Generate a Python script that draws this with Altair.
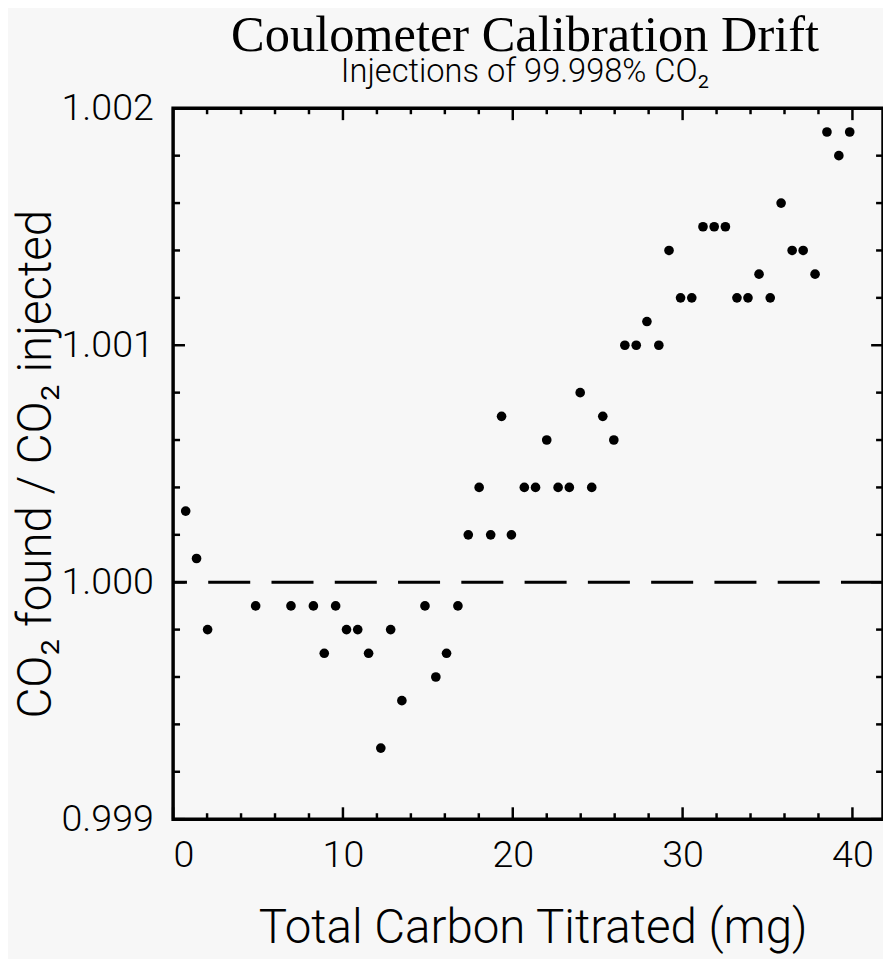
import altair as alt
import pandas as pd

# ---- data ----
carbon_mg = [0.74, 1.38, 2.03, 4.86, 6.94, 8.26, 8.9, 9.57, 10.21, 10.87, 11.51, 12.23, 12.81,
             13.47, 14.83, 15.47, 16.1, 16.77, 17.38, 18.02, 18.7, 19.34, 19.92, 20.68, 21.34,
             22.0, 22.67, 23.33, 23.97, 24.65, 25.3, 25.95, 26.6, 27.27, 27.9, 28.6, 29.2,
             29.88, 30.54, 31.2, 31.86, 32.52, 33.2, 33.85, 34.5, 35.16, 35.8, 36.45, 37.1,
             37.8, 38.5, 39.2, 39.84]
ratio = [1.0003, 1.0001, 0.9998, 0.9999, 0.9999, 0.9999, 0.9997, 0.9999, 0.9998, 0.9998,
         0.9997, 0.9993, 0.9998, 0.9995, 0.9999, 0.9996, 0.9997, 0.9999, 1.0002, 1.0004,
         1.0002, 1.0007, 1.0002, 1.0004, 1.0004, 1.0006, 1.0004, 1.0004, 1.0008, 1.0004,
         1.0007, 1.0006, 1.0010, 1.0010, 1.0011, 1.0010, 1.0014, 1.0012, 1.0012, 1.0015,
         1.0015, 1.0015, 1.0012, 1.0012, 1.0013, 1.0012, 1.0016, 1.0014, 1.0014, 1.0013,
         1.0019, 1.0018, 1.0019]
reference_ratio = [1.000]

x_labels = [0, 10, 20, 30, 40]
x_minor = [2, 4, 6, 8, 12, 14, 16, 18, 22, 24, 26, 28, 32, 34, 36, 38]
y_labels = [0.999, 1.000, 1.001, 1.002]
y_minor = [0.9992, 0.9994, 0.9996, 0.9998, 1.0002, 1.0004, 1.0006, 1.0008,
           1.0012, 1.0014, 1.0016, 1.0018]

W, H = 718, 719
SANS = "Roboto"

df = pd.DataFrame({"carbon": carbon_mg, "ratio": ratio})
xs = alt.Scale(domain=[0, 41.8], nice=False, zero=False)
ys = alt.Scale(domain=[0.999, 1.002], nice=False, zero=False)

points = alt.Chart(df).mark_circle(size=95, color="black", opacity=1).encode(
    x=alt.X("carbon:Q", scale=xs, axis=alt.Axis(
        values=x_labels, ticks=False, domain=False, grid=False,
        labelFont=SANS, labelFontWeight=300, labelFontSize=38, labelColor="black",
        labelPadding=18,
        title="Total Carbon Titrated (mg)", titleFont=SANS, titleFontWeight=300,
        titleFontSize=48, titleColor="black", titleAlign="left", titleX=86,
        titleY=125, titleBaseline="alphabetic")),
    y=alt.Y("ratio:Q", scale=ys, axis=alt.Axis(
        values=y_labels, format=".3f", ticks=False, domain=False, grid=False,
        labelFont=SANS, labelFontWeight=300, labelFontSize=38, labelColor="black",
        labelPadding=20,
        title="CO₂ found / CO₂ injected", titleFont=SANS, titleFontWeight=300,
        titleFontSize=48, titleColor="black", titleAngle=270, titleAlign="center",
        titleX=-124, titleY=H / 2, titleBaseline="alphabetic")),
)

ref = alt.Chart(pd.DataFrame({"ratio": reference_ratio})).mark_rule(
    color="black", strokeWidth=3, strokeDash=[42.5, 21.5]
).encode(y=alt.Y("ratio:Q", scale=ys))

def xticks(vals, length, top):
    d = pd.DataFrame({"carbon": vals})
    if top:
        yy, yy2 = alt.value(0), alt.value(length)
    else:
        yy, yy2 = alt.value(H - length), alt.value(H)
    return alt.Chart(d).mark_rule(color="black", strokeWidth=2.5).encode(
        x=alt.X("carbon:Q", scale=xs), y=yy, y2=yy2)

def yticks(vals, length, right):
    d = pd.DataFrame({"ratio": vals})
    if right:
        xx, xx2 = alt.value(W - length), alt.value(W)
    else:
        xx, xx2 = alt.value(0), alt.value(length)
    return alt.Chart(d).mark_rule(color="black", strokeWidth=2.5).encode(
        y=alt.Y("ratio:Q", scale=ys), x=xx, x2=xx2)

layers = [
    ref,
    xticks(x_minor, 6, False), xticks(x_minor, 6, True),
    xticks(x_labels, 12, False), xticks(x_labels, 12, True),
    yticks(y_minor, 7, False), yticks(y_minor, 7, True),
    yticks(y_labels, 12, False), yticks(y_labels, 12, True),
    points,
]

chart = alt.layer(*layers).properties(
    width=W, height=H,
    autosize=alt.AutoSizeParams(type="none"),
    padding={"left": 167, "top": 96, "right": 0, "bottom": 136},
    background="#f7f7f7",
    title=alt.TitleParams(
        text="Coulometer Calibration Drift",
        subtitle="Injections of 99.998% CO₂",
        font="Liberation Serif", fontSize=51, fontWeight="normal", color="black",
        subtitleFont=SANS, subtitleFontSize=33, subtitleFontWeight=300,
        subtitleColor="black", subtitlePadding=-6,
        anchor="middle", dx=-3, offset=0,
    ),
).configure_view(stroke="black", strokeWidth=3.5)

chart.save("out.html", embed_options={"renderer": "svg", "actions": False})
